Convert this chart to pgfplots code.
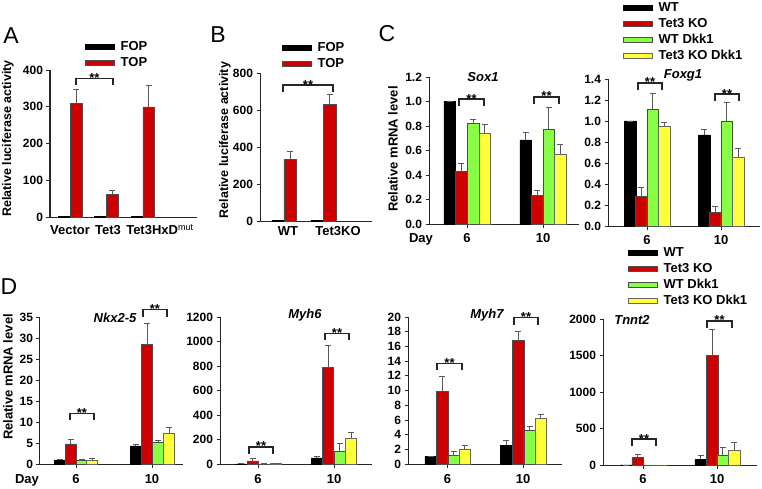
\documentclass[border=0pt]{standalone}
\usepackage{fontspec}
\setmainfont{Liberation Sans}
\usepackage{pgfplots}
\pgfplotsset{compat=1.18}
\definecolor{cred}{RGB}{204,0,0}
\definecolor{cgreen}{RGB}{136,255,68}
\definecolor{cyellow}{RGB}{255,255,60}
\newcommand{\fs}[1]{\bfseries\fontsize{#1}{#1}\selectfont}
\newcommand{\sig}[4]{%
 \draw[line width=1.1pt, black!85] ([yshift=-7pt]axis cs:#1,#3) -- (axis cs:#1,#3) -- (axis cs:#2,#3) -- ([yshift=-7pt]axis cs:#2,#3);
 \node[anchor=base, inner sep=0pt, yshift=-4pt, font=\fs{13}] at (axis cs:#4,#3) {**};}
\pgfplotsset{
 mylegend/.style={legend image code/.code={\draw[##1,/tikz/.cd,line width=0.5pt] (0pt,-2.5pt) rectangle (29pt,2.5pt);}},
 panel/.style={scale only axis, anchor=south west, enlargelimits=false, clip=false,
  axis lines*=left, axis line style={line width=1pt, black!85},
  tick align=outside, major tick length=3.5pt, tick style={line width=0.8pt, black!85},
  /pgf/number format/assume math mode=true, /pgf/number format/1000 sep={},
  yticklabel style={font=\fs{12}},
  xticklabel style={font=\fs{13}, anchor=base},
  every axis y label/.style={rotate=90, anchor=center, font=\fs{13}},
  legend cell align=left,
  legend style={draw=none, fill=none, inner sep=0pt, row sep=0pt, column sep=4pt, font=\fs{13},
    nodes={inner xsep=2pt, inner ysep=2pt, text height=9.5pt, text depth=2.5pt}, anchor=north west},
 },
 bk/.style={ybar, bar shift=0pt, fill=black, draw=black, line width=0.5pt, mylegend},
 rd/.style={ybar, bar shift=0pt, fill=cred, draw=black!70, line width=0.5pt, mylegend},
 gn/.style={ybar, bar shift=0pt, fill=cgreen, draw=black!70, line width=0.5pt, mylegend},
 yw/.style={ybar, bar shift=0pt, fill=cyellow, draw=black!60, line width=0.5pt, mylegend},
 eb/.style={error bars/.cd, y dir=plus, y explicit, error bar style={line width=0.7pt, black!65},
   error mark options={rotate=90, mark size=3pt, line width=0.7pt, black!65}},
 fix1/.style={yticklabel style={/pgf/number format/.cd, fixed, fixed zerofill, precision=1}},
}
\begin{document}
\begin{tikzpicture}[x=1pt,y=1pt]
\useasboundingbox (0,0) rectangle (762,488);
\node[font=\fontsize{23}{23}\selectfont] at (11,452) {A};
\node[font=\fontsize{23}{23}\selectfont] at (218,453) {B};
\node[font=\fontsize{23}{23}\selectfont] at (387,454) {C};
\node[font=\fontsize{23}{23}\selectfont] at (9,201) {D};

% ---------------- A
\begin{axis}[panel, at={(50pt,271pt)}, width=147pt, height=147pt,
  xmin=0, xmax=147, ymin=0, ymax=400, bar width=11.5pt,
  ytick={0,100,...,400}, xtick={20,58,110},
  xticklabels={Vector,Tet3,{Tet3HxD\textsuperscript{\mdseries mut}}},
  xtick style={draw=none}, xticklabel style={yshift=-14.2pt},
  ylabel={Relative luciferase activity},
  ylabel style={at={(axis description cs:-0.286,0.534)}, font=\fs{12.5}},
  legend style={at={(axis description cs:0.238,1.211)}}]
\addplot[bk] table[x=x,y=y] {
x y
14 1
50 1
87 1
};
\addplot[rd, eb] table[x=x,y=y,y error=e] {
x y e
26 310 37
62 62 10
98.5 300 58
};
\legend{FOP,TOP}
\sig{26}{63}{378}{44.5}
\end{axis}

% ---------------- B
\begin{axis}[panel, at={(260pt,267pt)}, width=112pt, height=148pt,
  xmin=0, xmax=112, ymin=0, ymax=800, bar width=12.5pt,
  ytick={0,200,...,800}, xtick={28,78},
  xticklabels={WT,Tet3KO},
  xtick style={draw=none}, xticklabel style={yshift=-10.5pt},
  ylabel={Relative luciferase activity},
  ylabel style={at={(axis description cs:-0.3125,0.547)}, font=\fs{12.5}},
  legend style={at={(axis description cs:0.196,1.223)}}]
\addplot[bk] table[x=x,y=y] {
x y
18 2
57.5 2
};
\addplot[rd, eb] table[x=x,y=y,y error=e] {
x y e
30 333 45
69.5 630 56
};
\legend{FOP,TOP}
\sig{23}{73}{735}{48}
\end{axis}

% ---------------- C Sox1
\begin{axis}[panel, fix1, at={(429pt,264pt)}, width=150pt, height=147pt,
  xmin=0, xmax=150, ymin=0, ymax=1.2, bar width=11.5pt,
  ytick={0,0.2,...,1.2}, xtick={38,114}, xticklabels={6,10},
  xticklabel style={yshift=-15.2pt},
  ylabel={Relative mRNA level},
  ylabel style={at={(axis description cs:-0.24,0.51)}}]
\addplot[bk, eb] table[x=x,y=y,y error=e] {
x y e
20.5 1.0 0
96.5 0.687 0.06
};
\addplot[rd, eb] table[x=x,y=y,y error=e] {
x y e
32 0.427 0.065
108 0.235 0.043
};
\addplot[gn, eb] table[x=x,y=y,y error=e] {
x y e
44 0.822 0.033
119.5 0.774 0.175
};
\addplot[yw, eb] table[x=x,y=y,y error=e] {
x y e
55.5 0.74 0.07
131 0.573 0.079
};
\sig{30}{55}{1.02}{42.5}
\sig{105}{130}{1.037}{117.5}
\node[font=\fs{13}\itshape] at (axis cs:54,1.2) {Sox1};
\node[font=\fs{13}, anchor=base] at (axis cs:-8,-0.153) {Day};
\end{axis}

% ---------------- C Foxg1
\begin{axis}[panel, fix1, at={(608pt,262pt)}, width=152pt, height=147pt,
  xmin=0, xmax=152, ymin=0, ymax=1.4, bar width=11.5pt,
  ytick={0,0.2,...,1.4}, xtick={39,113}, xticklabels={6,10},
  xticklabel style={yshift=-15.2pt},
  legend style={at={(axis description cs:0.0987,1.54)}}]
\addplot[bk, eb] table[x=x,y=y,y error=e] {
x y e
22 1.0 0
96 0.867 0.053
};
\addplot[rd, eb] table[x=x,y=y,y error=e] {
x y e
33 0.28 0.09
107 0.133 0.05
};
\addplot[gn, eb] table[x=x,y=y,y error=e] {
x y e
44.5 1.11 0.15
118.5 1.0 0.175
};
\addplot[yw, eb] table[x=x,y=y,y error=e] {
x y e
56 0.946 0.044
130 0.654 0.086
};
\legend{WT,Tet3 KO,WT Dkk1,Tet3 KO Dkk1}
\sig{30}{54}{1.362}{42}
\sig{107}{131}{1.257}{119}
\node[font=\fs{13}\itshape] at (axis cs:75,1.438) {Foxg1};
\end{axis}

% ---------------- D Nkx2-5
\begin{axis}[panel, at={(40pt,24pt)}, width=143pt, height=147pt,
  xmin=0, xmax=143, ymin=0, ymax=35, bar width=11pt,
  ytick={0,5,...,35}, xtick={36,112}, xticklabels={6,10},
  xticklabel style={yshift=-16.2pt},
  ylabel={Relative mRNA level},
  ylabel style={at={(axis description cs:-0.224,0.592)}}]
\addplot[bk, eb] table[x=x,y=y,y error=e] {
x y e
20 1.0 0
95.5 4.3 0.3
};
\addplot[rd, eb] table[x=x,y=y,y error=e] {
x y e
30.5 4.8 1.0
107 28.4 5.1
};
\addplot[gn, eb] table[x=x,y=y,y error=e] {
x y e
41.5 0.8 0.3
118 5.2 0.5
};
\addplot[yw, eb] table[x=x,y=y,y error=e] {
x y e
52 0.8 0.45
129 7.3 1.5
};
\sig{30}{54}{12.1}{42}
\sig{103}{127}{36.7}{115}
\node[font=\fs{13}\itshape] at (axis cs:75,34.8) {Nkx2-5};
\node[font=\fs{13}, anchor=base] at (axis cs:-13,-4.69) {Day};
\end{axis}

% ---------------- D Myh6
\begin{axis}[panel, at={(220pt,24pt)}, width=152pt, height=147pt,
  xmin=0, xmax=152, ymin=0, ymax=1200, bar width=11pt,
  ytick={0,200,...,1200}, xtick={38,114}, xticklabels={6,10},
  xticklabel style={yshift=-16.2pt}]
\addplot[bk, eb] table[x=x,y=y,y error=e] {
x y e
21 2 0
96.5 50 12
};
\addplot[rd, eb] table[x=x,y=y,y error=e] {
x y e
32.5 25 20
108 786 185
};
\addplot[gn, eb] table[x=x,y=y,y error=e] {
x y e
44 2 0
119.5 106 60
};
\addplot[yw, eb] table[x=x,y=y,y error=e] {
x y e
55.5 4 0
131 210 51
};
\sig{29}{53}{139}{41}
\sig{105}{129}{1069}{117}
\node[font=\fs{13}\itshape] at (axis cs:85,1216) {Myh6};
\end{axis}

% ---------------- D Myh7
\begin{axis}[panel, at={(408pt,24pt)}, width=154pt, height=147pt,
  xmin=0, xmax=154, ymin=0, ymax=20, bar width=11.5pt,
  ytick={0,2,...,20}, xtick={39.5,115}, xticklabels={6,10},
  xticklabel style={yshift=-16.2pt}]
\addplot[bk, eb] table[x=x,y=y,y error=e] {
x y e
22.5 1.0 0
98 2.58 0.68
};
\addplot[rd, eb] table[x=x,y=y,y error=e] {
x y e
34 9.9 2.0
110 16.8 1.3
};
\addplot[gn, eb] table[x=x,y=y,y error=e] {
x y e
45.5 1.13 0.55
121.5 4.6 0.55
};
\addplot[yw, eb] table[x=x,y=y,y error=e] {
x y e
56.5 2.0 0.5
132.5 6.2 0.6
};
\sig{29}{54}{13.7}{41.5}
\sig{106}{130}{19.9}{118}
\node[font=\fs{13}\itshape] at (axis cs:79,20.3) {Myh7};
\end{axis}

% ---------------- D Tnnt2
\begin{axis}[panel, at={(603pt,23pt)}, width=154pt, height=146pt,
  xmin=0, xmax=154, ymin=0, ymax=2000, bar width=11.5pt,
  ytick={0,500,...,2000}, xtick={40,114}, xticklabels={6,10},
  xticklabel style={yshift=-15.2pt},
  legend style={at={(axis description cs:0.162,1.507)}}]
\addplot[bk, eb] table[x=x,y=y,y error=e] {
x y e
23 2 0
97.5 82 45
};
\addplot[rd, eb] table[x=x,y=y,y error=e] {
x y e
34.5 104 36
109 1497 355
};
\addplot[gn, eb] table[x=x,y=y,y error=e] {
x y e
46 2 0
119.5 140 105
};
\addplot[yw, eb] table[x=x,y=y,y error=e] {
x y e
57.5 2 0
131 204 113
};
\legend{WT,Tet3 KO,WT Dkk1,Tet3 KO Dkk1}
\sig{29}{53}{356}{41}
\sig{104}{129}{1973}{116.5}
\node[font=\fs{13}\itshape] at (axis cs:29,1986) {Tnnt2};
\end{axis}
\end{tikzpicture}
\end{document}
